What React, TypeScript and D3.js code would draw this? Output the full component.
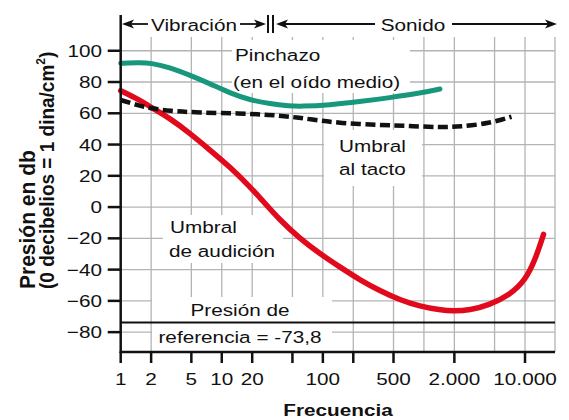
import * as d3 from "d3"
import React from "react"

// frequencies (Hz) and pressure (db)
const pinchazoFreq = [1, 1.5, 2, 3, 5, 7.6, 12, 19, 30, 47, 60, 117, 230, 460, 900, 1440]
const pinchazoDb = [92, 92.4, 92.2, 89.5, 84, 79, 73, 68.5, 66, 64.7, 64.4, 65.3, 67.4, 70, 72.8, 75.5]

const tactoFreq = [1, 1.55, 2, 3, 6, 15, 30, 50, 75, 150, 370, 720, 1440, 2270, 4450, 7350]
const tactoDb = [68.5, 64.7, 63.2, 61.5, 60.4, 60, 59, 57.7, 56.2, 53.6, 52.5, 51.9, 51, 51.4, 53.6, 57.8]

const audicionFreq = [1, 1.55, 1.95, 3.07, 4.85, 7.64, 12, 19, 24, 37.6, 59, 93, 147, 232, 367, 578, 912, 1440, 1940, 2840, 4470, 7040, 10040, 12650, 15250]
const audicionDb = [74.5, 68.5, 64.2, 56.8, 47.2, 36.5, 25.8, 13, 5.8, -8.4, -20, -29.8, -38.3, -46.6, -53.5, -59.4, -63.5, -65.8, -66.6, -66, -62.6, -56.2, -47, -33.5, -17.5]

const referencia = -73.8

const freqTicks = [1, 2, 5, 10, 20, 50, 100, 200, 500, 2000, 10000]
const freqLabels = ["1", "2", "5", "10", "20", "", "100", "", "500", "2.000", "10.000"]
const gridFreqs = [2, 5, 10, 20, 50, 100, 200, 500, 1000, 2000, 5000, 10000]
const dbTicks = [-80, -60, -40, -20, 0, 20, 40, 60, 80, 100]

const width = 569,
  height = 420
const left = 120.7,
  right = 555,
  top = 37,
  bottom = 352
const SX = 1.22 // the lettering in the figure is wide
const font = "'Liberation Sans', Arial, Helvetica, sans-serif"

function Label({ x, y, anchor = "start", bold = false, size = 17, children }) {
  return (
    <text
      transform={`translate(${x},${y}) scale(${SX},1)`}
      textAnchor={anchor}
      fontFamily={font}
      fontSize={size}
      fontWeight={bold ? "bold" : "normal"}
      fill="#111"
    >
      {children}
    </text>
  )
}

function Arrow({ x, y, dir }) {
  // notched arrow head, tip at (x, y)
  const s = dir
  return (
    <path
      d={`M${x},${y} L${x + s * 12},${y - 4.5} L${x + s * 9},${y} L${x + s * 12},${y + 4.5} Z`}
      fill="#111"
    />
  )
}

export default function App() {
  const x = d3.scaleLog().domain([1, 19800]).range([left, right])
  const y = d3.scaleLinear().domain([-92.7, 108.8]).range([bottom, top])

  const line = d3
    .line<[number, number]>()
    .x((d) => x(d[0]))
    .y((d) => y(d[1]))
    .curve(d3.curveBasis)

  const pinchazo = line(pinchazoFreq.map((f, i) => [f, pinchazoDb[i]]))
  const tacto = line(tactoFreq.map((f, i) => [f, tactoDb[i]]))
  const audicion = line(audicionFreq.map((f, i) => [f, audicionDb[i]]))

  const headY = 24
  const split = 270

  return (
    <svg
      width={width}
      height={height}
      style={{ position: "absolute", left: 0, top: 0, background: "#fff" }}
    >
      {/* grid */}
      <g stroke="#b4b4b4" strokeWidth={1.3}>
        {gridFreqs.map((f) => (
          <line key={f} x1={x(f)} x2={x(f)} y1={top} y2={bottom} />
        ))}
        <line x1={right} x2={right} y1={top} y2={bottom} />
        {dbTicks.map((v) => (
          <line key={v} x1={left} x2={right} y1={y(v)} y2={y(v)} />
        ))}
      </g>

      {/* label knockouts */}
      <g fill="#fff">
        <rect x={232} y={40} width={178} height={53} />
        <rect x={324} y={130} width={98} height={56} />
        <rect x={163} y={215} width={120} height={48} />
        <rect x={152} y={297} width={180} height={54} />
      </g>

      {/* reference pressure */}
      <line x1={left} x2={right} y1={y(referencia)} y2={y(referencia)} stroke="#111" strokeWidth={2} />

      {/* curves */}
      <path d={pinchazo} fill="none" stroke="#17977b" strokeWidth={5} strokeLinecap="round" />
      <path d={audicion} fill="none" stroke="#e10a1c" strokeWidth={5.5} strokeLinecap="round" />
      <path d={tacto} fill="none" stroke="#111" strokeWidth={4.5} strokeDasharray="10,4.5" />

      {/* axes */}
      <line x1={left} x2={left} y1={15} y2={bottom + 1} stroke="#111" strokeWidth={2.5} />
      <line x1={left - 1} x2={right} y1={bottom} y2={bottom} stroke="#111" strokeWidth={2.5} />
      {dbTicks.map((v) => (
        <g key={v}>
          <line x1={left - 13} x2={left} y1={y(v)} y2={y(v)} stroke="#111" strokeWidth={2.5} />
          <Label x={102} y={y(v) + 6} anchor="end">
            {v < 0 ? "\u2212" + Math.abs(v) : String(v)}
          </Label>
        </g>
      ))}
      {freqTicks.map((f, i) => (
        <g key={f}>
          <line x1={x(f)} x2={x(f)} y1={bottom} y2={bottom + 11} stroke="#111" strokeWidth={2.5} />
          <Label x={x(f)} y={385} anchor="middle">
            {freqLabels[i]}
          </Label>
        </g>
      ))}

      {/* header: vibración / sonido */}
      <g stroke="#111" strokeWidth={1.8}>
        <line x1={124} x2={148} y1={headY} y2={headY} />
        <line x1={240} x2={262} y1={headY} y2={headY} />
        <line x1={split - 2} x2={split - 2} y1={15} y2={33} strokeWidth={2} />
        <line x1={split + 3} x2={split + 3} y1={15} y2={33} strokeWidth={2} />
        <line x1={280} x2={375} y1={headY} y2={headY} />
        <line x1={452} x2={552} y1={headY} y2={headY} />
      </g>
      <Arrow x={122} y={headY} dir={1} />
      <Arrow x={266} y={headY} dir={-1} />
      <Arrow x={276} y={headY} dir={1} />
      <Arrow x={557} y={headY} dir={-1} />
      <Label x={194} y={31} anchor="middle">Vibración</Label>
      <Label x={413} y={31} anchor="middle">Sonido</Label>

      {/* annotations */}
      <Label x={235} y={60.5}>Pinchazo</Label>
      <Label x={233} y={88}>(en el oído medio)</Label>
      <Label x={339} y={151.5}>Umbral</Label>
      <Label x={339} y={175}>al tacto</Label>
      <Label x={170} y={233}>Umbral</Label>
      <Label x={169} y={257}>de audición</Label>
      <Label x={240} y={316} anchor="middle">Presión de</Label>
      <Label x={240} y={343} anchor="middle">referencia = -73,8</Label>

      {/* axis titles */}
      <Label x={338} y={416} anchor="middle" bold>
        Frecuencia
      </Label>
      <g fontFamily={font} fontWeight="bold" fill="#111">
        <text fontSize={21} transform={`translate(35,289) rotate(-90) scale(1,1.08)`}>
          Presión en db
        </text>
        <text fontSize={19} transform={`translate(54,289) rotate(-90) scale(1,1.08)`}>
          (0 decibelios = 1 dina/cm
          <tspan fontSize={12} dy={-8}>
            2
          </tspan>
          <tspan dy={8}>)</tspan>
        </text>
      </g>
    </svg>
  )
}
